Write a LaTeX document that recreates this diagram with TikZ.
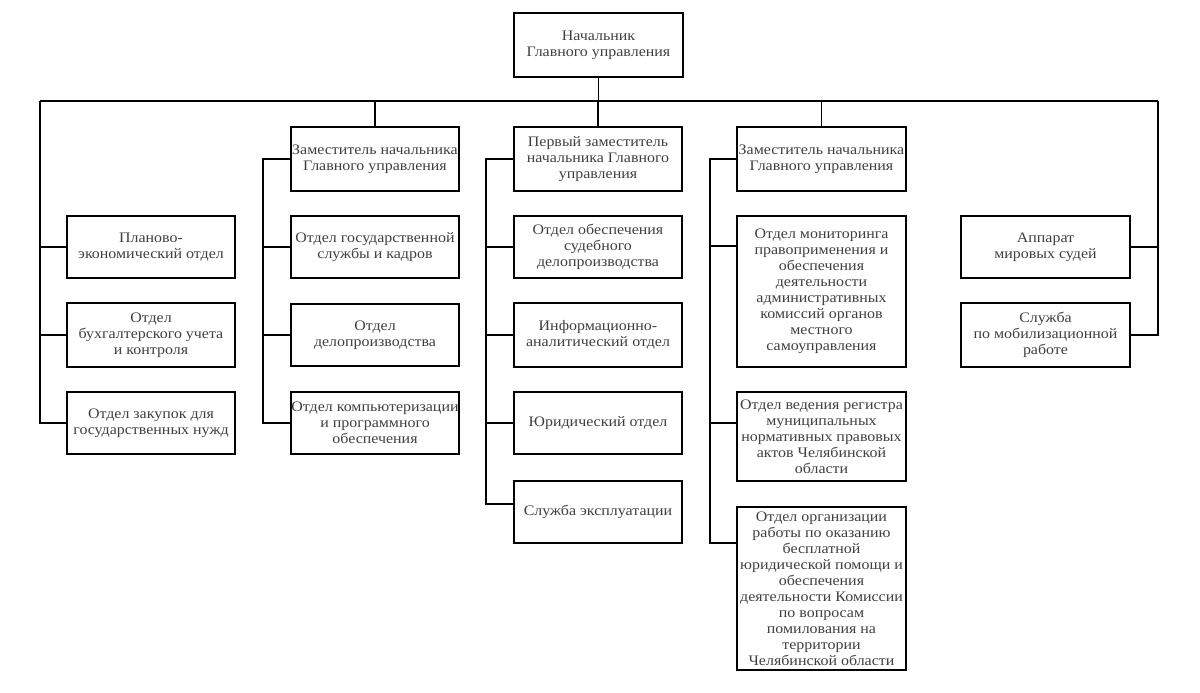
\documentclass[tikz,border=0pt]{standalone}
\usepackage{fontspec}
\setmainfont{Liberation Serif}[FakeStretch=1.1]
\begin{document}
\begin{tikzpicture}[x=1pt,y=-1pt,
  box/.style={draw=black, line width=1.3pt, rectangle, align=center, inner sep=0pt,
    font=\fontsize{14.5}{16}\selectfont, text=black!75},
  ln/.style={draw=black, line width=1.2pt},
]
\useasboundingbox (0,0) rectangle (1200,693);
\fill[white] (0,0) rectangle (1200,693);
% nodes: minimum width/height in px
\newcommand{\bx}[6]{\node[box, minimum width=#4-#2, minimum height=#5-#3] (#1) at ({(#2+#4)/2},{(#3+#5)/2}) {#6};}
\bx{top}{514}{13}{683}{77}{Начальник\\Главного управления}
% column 1
\bx{a1}{67}{216}{235}{278}{Планово-\\экономический отдел}
\bx{a2}{67}{303}{235}{367}{Отдел\\бухгалтерского учета\\и контроля}
\bx{a3}{67}{392}{235}{454}{Отдел закупок для\\государственных нужд}
% column 2
\bx{b0}{291}{127}{459}{191}{Заместитель начальника\\Главного управления}
\bx{b1}{291}{216}{459}{278}{Отдел государственной\\службы и кадров}
\bx{b2}{291}{304}{459}{366}{Отдел\\делопроизводства}
\bx{b3}{291}{392}{459}{454}{Отдел компьютеризации\\и программного\\обеспечения}
% column 3
\bx{c0}{514}{127}{682}{191}{Первый заместитель\\начальника Главного\\управления}
\bx{c1}{514}{216}{682}{278}{Отдел обеспечения\\судебного\\делопроизводства}
\bx{c2}{514}{303}{682}{367}{Информационно-\\аналитический отдел}
\bx{c3}{514}{392}{682}{454}{Юридический отдел}
\bx{c4}{514}{481}{682}{543}{Служба эксплуатации}
% column 4
\bx{d0}{737}{127}{906}{191}{Заместитель начальника\\Главного управления}
\bx{d1}{737}{216}{906}{367}{Отдел мониторинга\\правоприменения и\\обеспечения\\деятельности\\административных\\комиссий органов\\местного\\самоуправления}
\bx{d2}{737}{392}{906}{481}{Отдел ведения регистра\\муниципальных\\нормативных правовых\\актов Челябинской\\области}
\bx{d3}{737}{507}{906}{670}{Отдел организации\\работы по оказанию\\бесплатной\\юридической помощи и\\обеспечения\\деятельности Комиссии\\по вопросам\\помилования на\\территории\\Челябинской области}
% column 5
\bx{e1}{961}{216}{1130}{278}{Аппарат\\мировых судей}
\bx{e2}{961}{303}{1130}{367}{Служба\\по мобилизационной\\работе}
% bus
\coordinate (busL) at (40,101);
\coordinate (busR) at (1158,101);
\coordinate (bL) at (263,159);
\coordinate (cL) at (486,159);
\coordinate (dL) at (710,159);
\draw[ln] (top.south) -- (top.south |- busL);
\draw[ln] (busL) -- (busR);
\draw[ln] (b0.north) -- (b0.north |- busL);
\draw[ln] (c0.north) -- (c0.north |- busL);
\draw[ln] (d0.north) -- (d0.north |- busL);
% column 1
\draw[ln] (busL) |- (a3.west);
\draw[ln] (a1.west) -- (a1.west -| busL);
\draw[ln] (a2.west) -- (a2.west -| busL);
% column 2
\draw[ln] (b0.west) -- (bL) |- (b3.west);
\draw[ln] (b1.west) -- (b1.west -| bL);
\draw[ln] (b2.west) -- (b2.west -| bL);
% column 3
\draw[ln] (c0.west) -- (cL) |- ([yshift=8pt]c4.west);
\draw[ln] (c1.west) -- (c1.west -| cL);
\draw[ln] (c2.west) -- (c2.west -| cL);
\draw[ln] (c3.west) -- (c3.west -| cL);
% column 4
\coordinate (d1c) at (737,246);
\coordinate (d2c) at (737,423);
\coordinate (d3c) at (737,543);
\draw[ln] (d0.west) -- (dL) |- (d3c);
\draw[ln] (d1c) -- (d1c -| dL);
\draw[ln] (d2c) -- (d2c -| dL);
% column 5
\draw[ln] (busR) |- (e2.east);
\draw[ln] (e1.east) -- (e1.east -| busR);
\end{tikzpicture}
\end{document}
